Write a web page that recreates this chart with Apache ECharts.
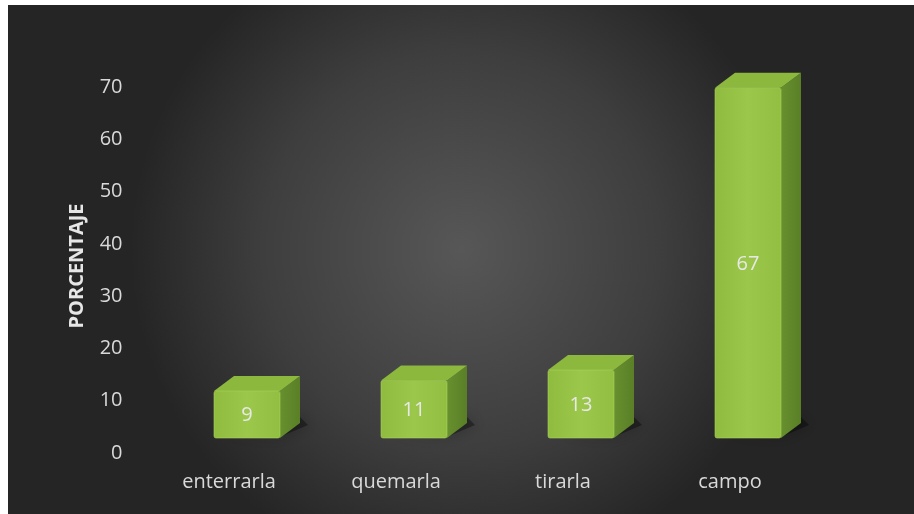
<!DOCTYPE html>
<html>
<head>
<meta charset="utf-8">
<script src="https://cdn.jsdelivr.net/npm/echarts@6/dist/echarts.min.js"></script>
<style>
html,body{margin:0;padding:0;background:#fff;}
#chart{width:914px;height:514px;}
</style>
</head>
<body>
<div id="chart"></div>
<script>
const categories = ['enterrarla', 'quemarla', 'tirarla', 'campo'];
const values = [9, 11, 13, 67];
const axisName = 'PORCENTAJE';

const chart = echarts.init(document.getElementById('chart'));
const FONT = 'Open Sans';
const BAR_W = 66, DX = 20, DY = 15, SHIFT_X = 18, LIFT = 15;

function renderItem(params, api) {
  const cat = api.value(0);
  const val = api.value(1);
  const base = api.coord([cat, 0]);
  const top = api.coord([cat, val]);
  const cx = base[0] + SHIFT_X;
  const x0 = cx - BAR_W / 2, x1 = cx + BAR_W / 2;
  const yb = base[1] - LIFT, yt = top[1] - LIFT;
  return {
    type: 'group',
    children: [
      { type: 'polygon',
        shape: { points: [[x0 + 10, yb - 2], [x1 + 2, yb - 2], [x1 + DX + 8, yb - DY + 2], [x1 + DX, yb - DY - 6], [x1, yb - 8]] },
        style: { fill: 'rgba(0,0,0,0.35)', shadowBlur: 14, shadowColor: 'rgba(0,0,0,0.8)' }, z2: 0 },
      { type: 'polygon',
        shape: { points: [[x1, yt], [x1 + DX, yt - DY], [x1 + DX, yb - DY], [x1, yb]] },
        style: { fill: new echarts.graphic.LinearGradient(0, 0, 1, 0, [
          { offset: 0, color: '#67902e' }, { offset: 1, color: '#5a7f27' }]) }, z2: 1 },
      { type: 'polygon',
        shape: { points: [[x0, yt], [x0 + DX, yt - DY], [x1 + DX, yt - DY], [x1, yt]] },
        style: { fill: '#8cb83e' }, z2: 2 },
      { type: 'rect',
        shape: { x: x0, y: yt, width: BAR_W, height: yb - yt, r: 2 },
        style: { fill: new echarts.graphic.LinearGradient(0, 0, 1, 0, [
          { offset: 0, color: '#8fbc3f' }, { offset: 0.5, color: '#9bc84a' }, { offset: 1, color: '#92bf42' }]),
          stroke: 'rgba(170,210,90,0.6)', lineWidth: 1 }, z2: 3 },
      { type: 'text',
        style: { text: String(val), x: cx, y: (yt + yb) / 2 + 1, textAlign: 'center', textVerticalAlign: 'middle',
          fill: '#e8e8e8', font: '20px "' + FONT + '"' }, z2: 4 }
    ]
  };
}

chart.setOption({
  animation: false,
  backgroundColor: '#ffffff',
  graphic: [{
    type: 'rect', z: -10, silent: true,
    shape: { x: 8, y: 5, width: 906, height: 509 },
    style: { fill: new echarts.graphic.RadialGradient(0.5, 0.48, 0.65, [
      { offset: 0, color: '#575757' }, { offset: 0.6, color: '#3e3e3e' }, { offset: 1, color: '#252525' }]) }
  }],
  grid: { left: 145.5, right: 100.5, top: 87, bottom: 61 },
  xAxis: {
    type: 'category', data: categories,
    axisLine: { show: false }, axisTick: { show: false },
    axisLabel: { color: '#d9d9d9', fontSize: 20, fontFamily: FONT, margin: 19 }
  },
  yAxis: {
    type: 'value', min: 0, max: 70, interval: 10,
    name: axisName, nameLocation: 'middle', nameGap: 58, nameRotate: 90,
    nameTextStyle: { color: '#e6e6e6', fontSize: 20, fontWeight: 'bold', fontFamily: FONT, padding: [0, 0, 0, 8] },
    axisLine: { show: false }, axisTick: { show: false }, splitLine: { show: false },
    axisLabel: { color: '#d9d9d9', fontSize: 20, fontFamily: FONT, margin: 23 }
  },
  series: [{
    type: 'custom',
    renderItem: renderItem,
    data: values.map((v, i) => [i, v]),
    encode: { x: 0, y: 1 }
  }]
});
</script>
</body>
</html>
